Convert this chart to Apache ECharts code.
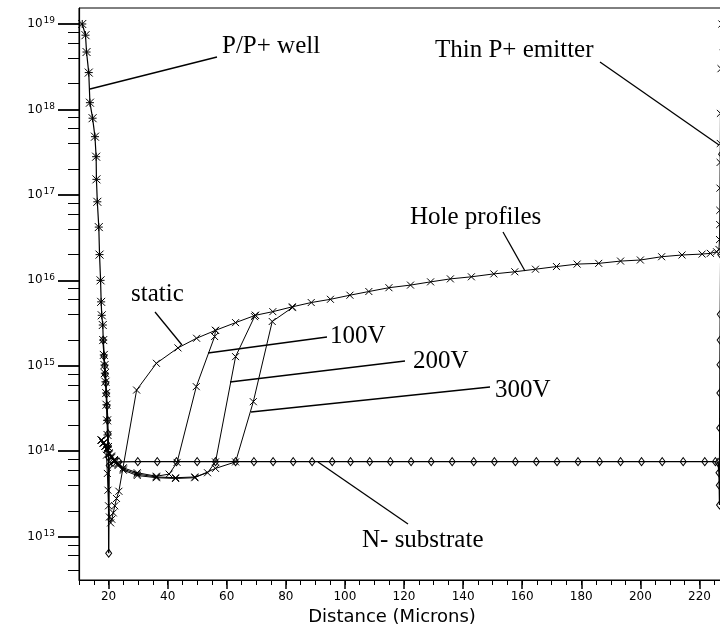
<!DOCTYPE html>
<html><head><meta charset="utf-8">
<script src="https://cdn.jsdelivr.net/npm/echarts@6/dist/echarts.min.js"></script>
<style>html,body{margin:0;padding:0;background:#fff}#c{width:720px;height:631px}</style>
</head><body><div id="c"></div>
<script>
// ---------- data (x in microns, y in cm^-3) ----------
const wellData = [
  [11.1,1.0e19],[12.2,7.4e18],[12.55,4.7e18],[13.3,2.7e18],[13.7,1.2e18],[14.6,7.9e17],
  [15.4,4.8e17],[15.8,2.8e17],[15.9,1.52e17],[16.2,8.3e16],[16.7,4.2e16],[16.95,2.0e16],
  [17.3,1.0e16],[17.5,5.6e15],[17.7,3.9e15],[18.05,3.0e15],[18.2,2.0e15],[18.4,1.34e15],
  [18.65,1.02e15],[18.75,8.2e14],[18.95,6.5e14],[19.2,4.8e14],[19.3,3.5e14],[19.5,2.3e14],
  [19.65,1.55e14],[19.8,1.12e14]
];
const holeStatic = [
  [17.6,1.35e14],[18.3,1.25e14],[18.9,1.15e14],[19.3,9.0e13],[19.6,5.5e13],[19.8,3.5e13],
  [20.0,2.3e13],[20.3,1.7e13],[20.7,1.45e13],[21.1,1.6e13],[21.6,1.9e13],[22.1,2.3e13],
  [22.7,2.8e13],[23.5,3.4e13],[29.5,5.2e14],[36.2,1.07e15],[43.5,1.62e15],[49.8,2.1e15],
  [56.2,2.6e15],[63.0,3.2e15],[69.7,3.9e15],[75.6,4.3e15],[82.2,4.9e15],[88.6,5.5e15],
  [95.1,6.0e15],[101.7,6.7e15],[108.1,7.4e15],[114.9,8.2e15],[122.2,8.8e15],[129.0,9.6e15],
  [135.7,1.04e16],[142.8,1.1e16],[150.4,1.19e16],[157.5,1.26e16],[164.5,1.35e16],[171.6,1.45e16],
  [178.6,1.55e16],[185.9,1.58e16],[193.3,1.68e16],[200.0,1.73e16],[207.2,1.89e16],[214.1,1.98e16],
  [220.9,2.03e16],[223.7,2.07e16],[225.8,2.16e16],[226.6,2.3e16],[226.8,3.0e16],[226.85,4.5e16],
  [226.9,6.6e16],[226.95,1.2e17],[227.0,2.4e17],[227.05,4.0e17],[227.1,9.0e17],[227.3,3.0e18],[227.6,1.0e19]
];
const hole100V = [
  [17.6,1.35e14],[18.3,1.25e14],[18.9,1.15e14],[19.5,1.05e14],[20.2,9.6e13],[21.0,8.8e13],
  [22.0,8.0e13],[23.2,7.2e13],[25.0,6.4e13],[29.7,5.6e13],[36.2,5.1e13],[40.5,5.4e13],
  [43.2,7.4e13],[49.7,5.7e14],[55.9,2.2e15],[56.2,2.6e15]
];
const hole200V = [
  [17.6,1.35e14],[18.3,1.25e14],[18.9,1.15e14],[19.5,1.05e14],[20.2,9.4e13],[21.0,8.6e13],
  [22.0,7.8e13],[23.2,7.0e13],[25.0,6.2e13],[29.7,5.4e13],[36.2,5.0e13],[42.7,4.9e13],
  [49.2,5.0e13],[53.5,5.6e13],[56.2,7.5e13],[63.0,1.28e15],[69.4,3.76e15],[69.7,3.9e15]
];
const hole300V = [
  [17.6,1.35e14],[18.3,1.25e14],[18.9,1.15e14],[19.5,1.05e14],[20.2,9.2e13],[21.0,8.4e13],
  [22.0,7.6e13],[23.2,6.8e13],[25.0,6.0e13],[29.7,5.2e13],[36.2,4.9e13],[42.7,4.8e13],
  [49.2,4.9e13],[56.2,6.3e13],[63.0,7.5e13],[69.0,3.8e14],[75.4,3.3e15],[82.2,4.8e15]
];
const substrate = [
  [18.2,2.0e15],[18.45,1.3e15],[18.7,1.0e15],[18.9,8.0e14],[19.1,6.3e14],[19.3,4.7e14],
  [19.5,3.4e14],[19.7,2.3e14],[19.85,1.6e14],[19.95,1.15e14],[20.0,8.5e13],[20.05,6.4e12],
  [20.2,6.8e13],[21.5,7.4e13],[23.5,7.5e13],[29.9,7.55e13],[36.5,7.55e13],[43.0,7.55e13],
  [50.0,7.55e13],[56.2,7.55e13],[63.0,7.55e13],[69.2,7.55e13],[75.7,7.55e13],[82.5,7.55e13],
  [88.9,7.55e13],[95.7,7.55e13],[101.9,7.55e13],[108.4,7.55e13],[115.4,7.55e13],[122.4,7.55e13],
  [129.2,7.55e13],[136.3,7.55e13],[143.6,7.55e13],[150.6,7.55e13],[157.7,7.55e13],[164.8,7.55e13],
  [171.8,7.55e13],[178.9,7.55e13],[186.2,7.55e13],[193.3,7.55e13],[200.4,7.55e13],[207.4,7.55e13],
  [214.5,7.55e13],[221.8,7.55e13],[225.4,7.55e13],[226.3,7.4e13],[226.6,5.6e13],[226.7,4.0e13],
  [226.8,2.35e13],[226.85,1.87e14],[226.9,4.8e14],[226.95,1.03e15],[227.0,2.0e15],[227.05,4.0e15],
  [227.2,2.0e16],[227.5,3.0e17],[228.0,5.0e18]
];
const xMajorTicks = [20,40,60,80,100,120,140,160,180,200,220];
const yMajorTicks = [1e13,1e14,1e15,1e16,1e17,1e18,1e19];
const yMinorTicks = [4e12,6e12,8e12,2e13,4e13,6e13,8e13,2e14,4e14,6e14,8e14,2e15,4e15,6e15,8e15,
  2e16,4e16,6e16,8e16,2e17,4e17,6e17,8e17,2e18,4e18,6e18,8e18];
const expLabels = {1e13:'13',1e14:'14',1e15:'15',1e16:'16',1e17:'17',1e18:'18',1e19:'19'};

// ---------- chart ----------
const X_MIN = 10, X_MAX = 230, Y_MIN = 3.113e12, Y_MAX = 1.539e19;
const chart = echarts.init(document.getElementById('c'));
const SANS = '"DejaVu Sans", sans-serif';
const SERIF = '"Liberation Serif", "Times New Roman", serif';
const crossPath = 'path://M0,0L10,10M10,0L0,10';
const starPath = 'path://M0,0L10,10M10,0L0,10M0,5L10,5M5,0L5,10';
const diamondPath = 'path://M5,0L10,5L5,10L0,5Z';

function lineSeries(name, data, symbol, size, width) {
  return {
    name, type: 'line', data, symbol, symbolSize: size,
    xAxisIndex: 0, yAxisIndex: 0,
    lineStyle: { color: '#000', width: width || 1 },
    itemStyle: { color: 'rgba(0,0,0,0)', borderColor: '#000', borderWidth: 1 },
    emphasis: { disabled: true }, silent: true, animation: false, clip: true
  };
}

const ann = [
  { t: 'P/P+ well', x: 222, y: 46 },
  { t: 'Thin P+ emitter', x: 435, y: 50 },
  { t: 'Hole profiles', x: 410, y: 217 },
  { t: 'static', x: 131, y: 294 },
  { t: '100V', x: 330, y: 336 },
  { t: '200V', x: 413, y: 361 },
  { t: '300V', x: 495, y: 390 },
  { t: 'N- substrate', x: 362, y: 540 }
];
const leaders = [
  [90, 89, 217, 57],
  [600, 62, 719, 145],
  [503, 232, 525, 271],
  [155, 312, 182, 345],
  [208, 353, 327, 337],
  [230, 382, 405, 361],
  [251, 412, 490, 387],
  [318, 462, 408, 524]
];
const graphics = [];
ann.forEach(a => graphics.push({ type: 'text', x: a.x, y: a.y, silent: true,
  style: { text: a.t, font: '25px ' + SERIF, fill: '#000', verticalAlign: 'middle', align: 'left' } }));
leaders.forEach(l => graphics.push({ type: 'line', silent: true,
  shape: { x1: l[0], y1: l[1], x2: l[2], y2: l[3] }, style: { stroke: '#000', lineWidth: 1.3 } }));

chart.setOption({
  animation: false,
  backgroundColor: '#fff',
  grid: { left: 79, top: 8, width: 650, height: 572, show: true, borderColor: '#000', borderWidth: 1,
          containLabel: false, outerBoundsMode: 'none' },
  xAxis: [
    { type: 'value', min: X_MIN, max: X_MAX, interval: 5, position: 'bottom',
      axisLine: { show: true, lineStyle: { color: '#000', width: 1.2 } },
      axisTick: { show: true, inside: false, length: 5, lineStyle: { color: '#000', width: 1 } },
      axisLabel: { show: false }, splitLine: { show: false } },
    { type: 'value', min: X_MIN, max: X_MAX, position: 'bottom',
      axisLine: { show: false },
      axisTick: { show: true, inside: false, length: 9, customValues: xMajorTicks, lineStyle: { color: '#000', width: 1.5 } },
      axisLabel: { show: true, customValues: xMajorTicks, margin: 11, color: '#000', fontSize: 12, fontFamily: SANS },
      splitLine: { show: false },
      name: 'Distance (Microns)', nameLocation: 'middle', nameGap: 23,
      nameTextStyle: { color: '#000', fontSize: 18, fontFamily: SANS, padding: [0, 24, 0, 0] } }
  ],
  yAxis: [
    { type: 'log', logBase: 10, min: Y_MIN, max: Y_MAX, position: 'left',
      axisLine: { show: true, lineStyle: { color: '#000', width: 1.2 } },
      axisTick: { show: true, inside: false, length: 21, customValues: yMajorTicks, lineStyle: { color: '#000', width: 1.8 } },
      axisLabel: { show: true, customValues: yMajorTicks, margin: 24,
        formatter: v => '{b|10}{s|' + (expLabels[v] || '') + '}',
        rich: { b: { fontSize: 12, fontFamily: SANS, color: '#000' },
                s: { fontSize: 9, fontFamily: SANS, color: '#000', padding: [0, 0, 6, 1] } } },
      splitLine: { show: false } },
    { type: 'log', logBase: 10, min: Y_MIN, max: Y_MAX, position: 'left',
      axisLine: { show: false },
      axisTick: { show: true, inside: false, length: 11, customValues: yMinorTicks, lineStyle: { color: '#000', width: 1 } },
      axisLabel: { show: false }, splitLine: { show: false } }
  ],
  series: [
    lineSeries('P/P+ well', wellData, starPath, 8, 1.2),
    lineSeries('N- substrate', substrate, diamondPath, [6, 8], 1.4),
    lineSeries('static', holeStatic, crossPath, 7, 1),
    lineSeries('100V', hole100V, crossPath, 7, 1),
    lineSeries('200V', hole200V, crossPath, 7, 1),
    lineSeries('300V', hole300V, crossPath, 7, 1)
  ],
  graphic: graphics
});
</script></body></html>
